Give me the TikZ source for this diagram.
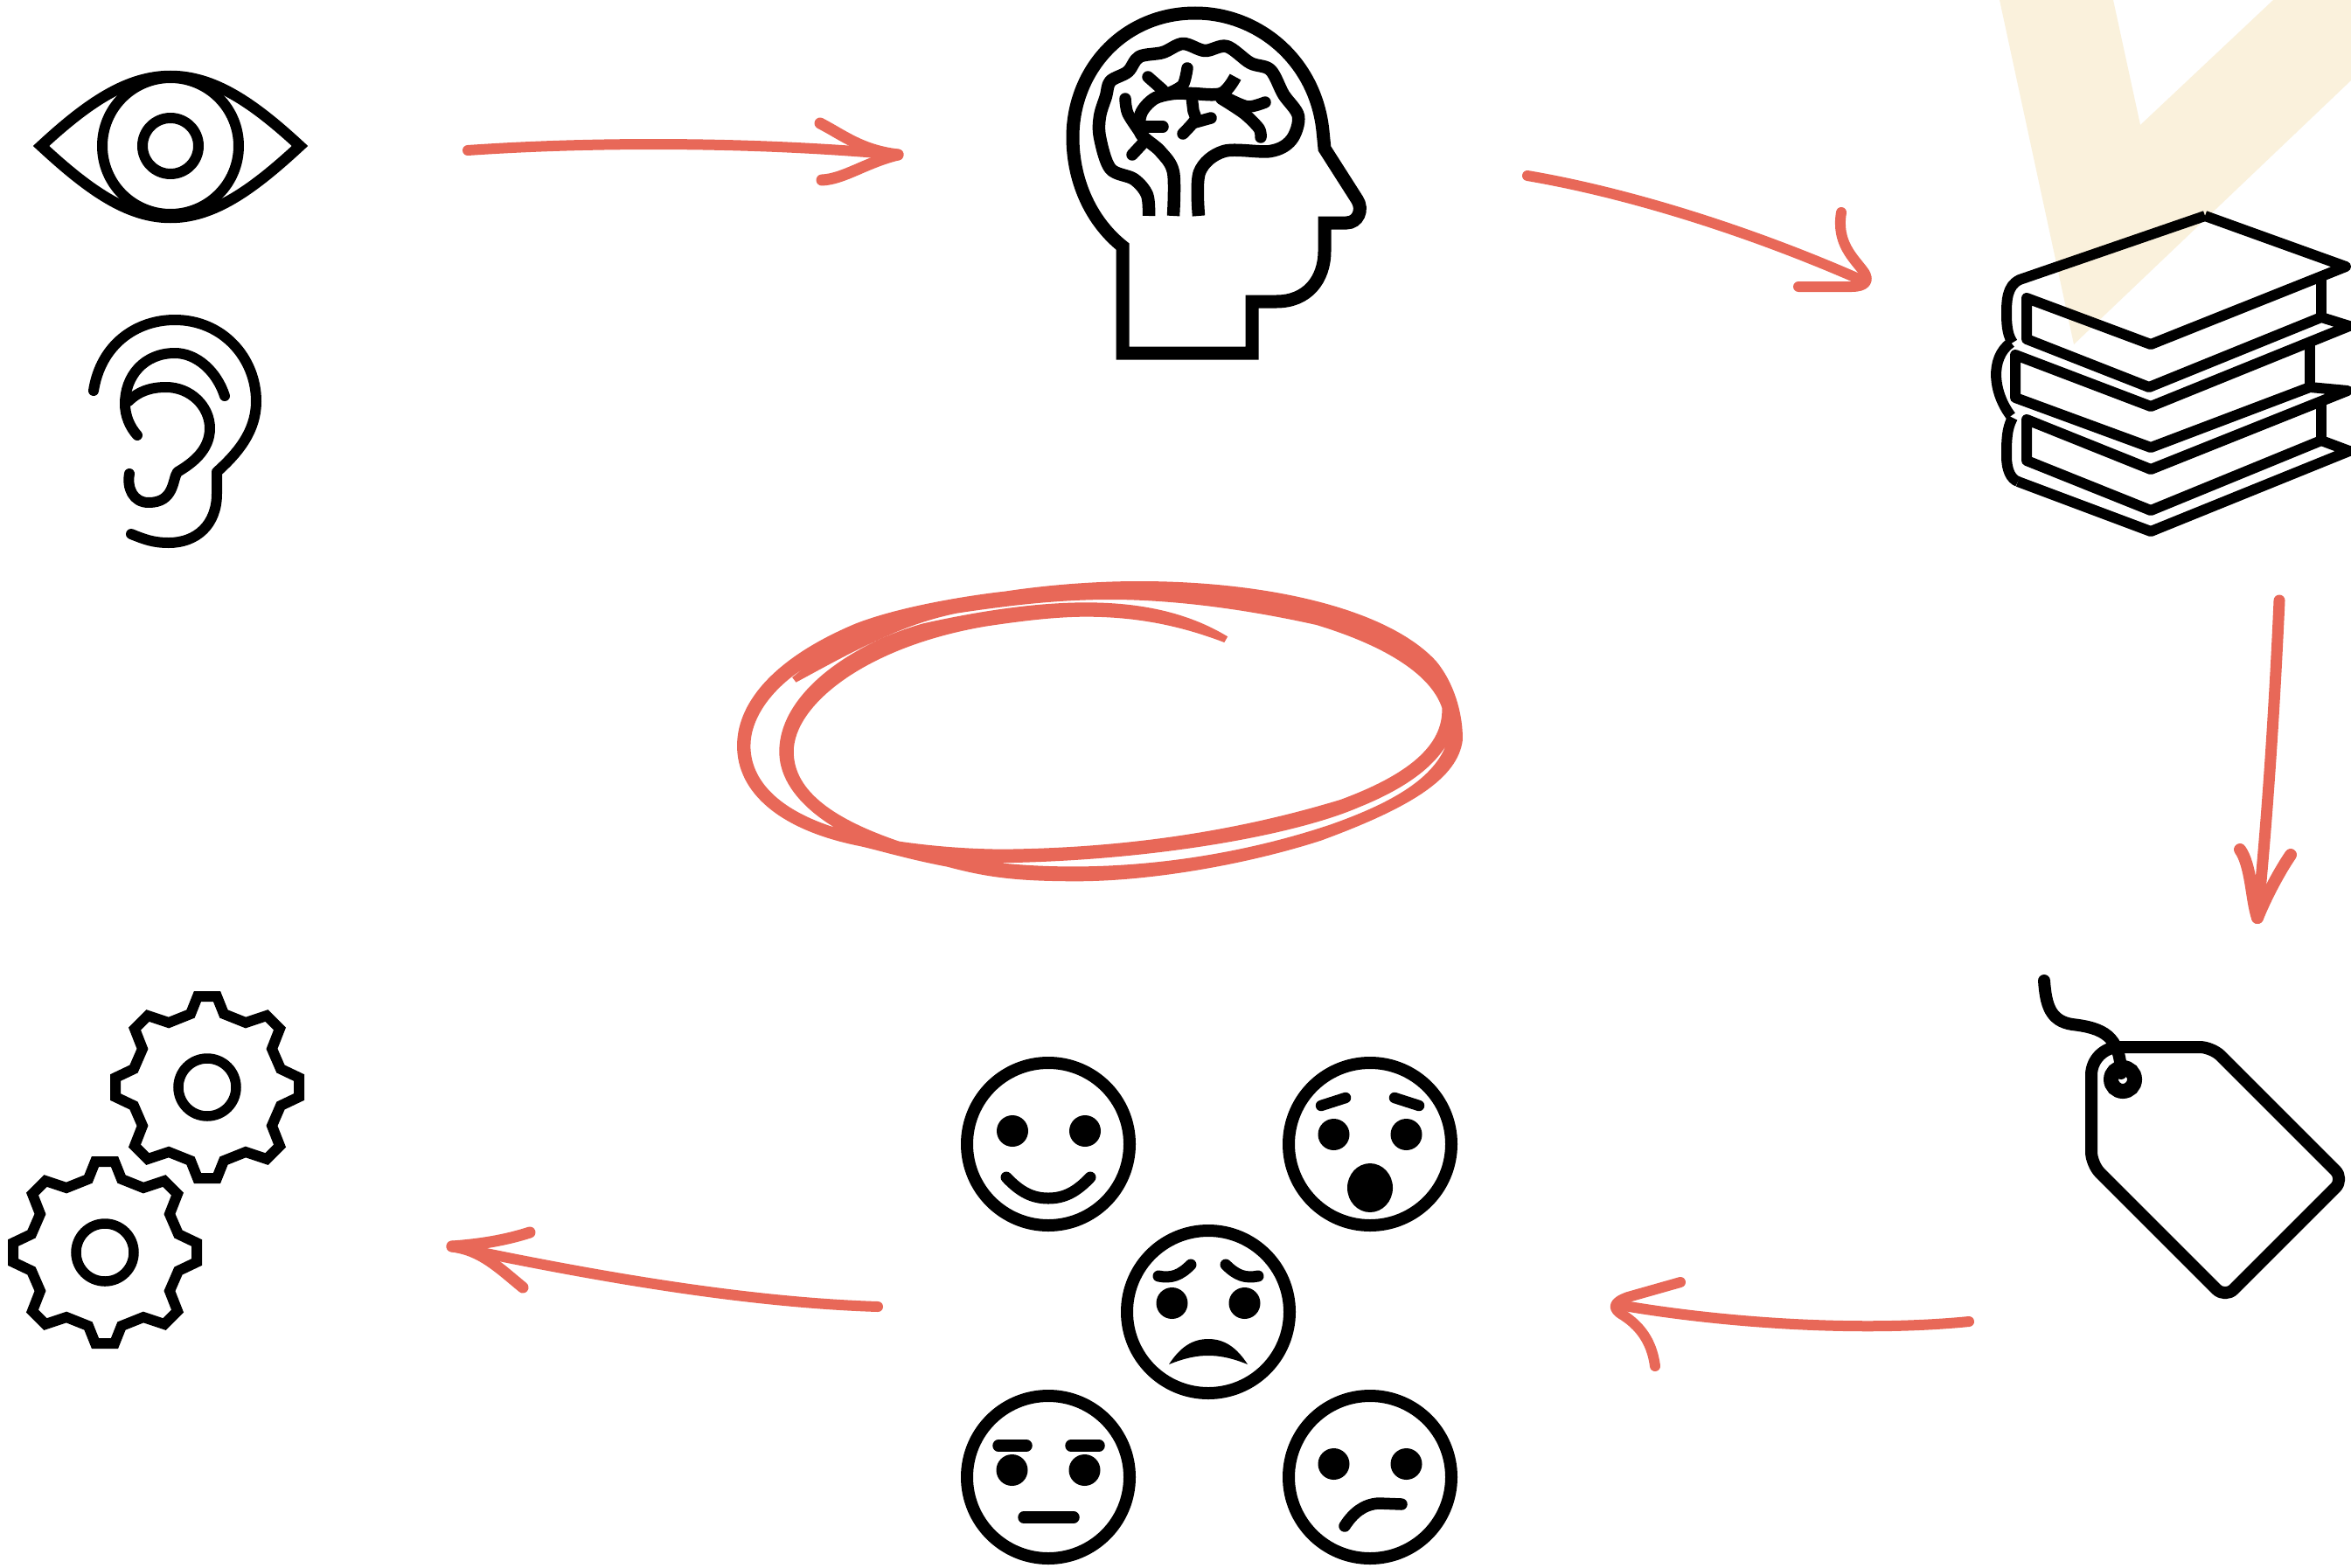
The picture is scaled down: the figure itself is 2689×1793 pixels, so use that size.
\documentclass[tikz,border=0pt]{standalone}
\definecolor{salmon}{HTML}{E86858}
\definecolor{beige}{HTML}{FAF1DC}
\tikzset{
  ico/.style={draw=black,line width=#1,line join=round,line cap=round},
  ico/.default=12pt,
  sharp/.style={draw=black,line width=#1,line join=miter,line cap=butt},
  sharp/.default=12pt,
  conn/.style={draw=salmon,line width=12pt,line cap=round,line join=round},
  eyedot/.style={fill=black},
  gearicon/.pic={
    \draw[sharp=12pt]
    (-11,-104)--(11,-104)--(19,-84)--(44,-74)--(68,-82)--(83,-67)--(74,-44)--(84,-21)--(105,-11)--(105,11)
    --(84,21)--(74,44)--(83,67)--(68,82)--(44,74)--(19,84)--(11,104)--(-11,104)--(-19,84)--(-44,74)
    --(-68,82)--(-83,67)--(-74,44)--(-84,21)--(-105,11)--(-105,-11)--(-84,-21)--(-74,-44)--(-83,-67)
    --(-68,-82)--(-44,-74)--(-19,-84)--cycle;
    \draw[sharp=11.5pt] (0,0) circle[radius=33];
  },
  faceicon/.pic={
    \draw[sharp=14pt] (0,0) circle[radius=93];
  }
}
\begin{document}
\begin{tikzpicture}[x=1pt,y=-1pt]
\useasboundingbox (0,0) rectangle (2689,1793);
\fill[white] (0,0) rectangle (2689,1793);
% check mark behind the books
\fill[beige] (2287,0)--(2372,394)--(2689,92)--(2689,0)--(2600,0)--(2448,143)--(2417,0)--cycle;

% eye
\draw[sharp=12.5pt,miter limit=10] (47,167) .. controls (100,118) and (145,87) .. (195,87) .. controls (245,87) and (290,118) .. (343,167)
  .. controls (290,216) and (245,249) .. (195,249) .. controls (145,249) and (100,216) .. (47,167) -- cycle;
\draw[sharp=12pt] (195,167) circle[radius=78];
\draw[sharp=12pt] (195,167) circle[radius=32];

% ear
\draw[ico=12pt] (107,447) .. controls (115,395) and (155,366) .. (200,366) .. controls (255,366) and (293,410) .. (293,459) .. controls (293,495) and (270,520) .. (248,540) -- (248,565) .. controls (248,600) and (225,621) .. (193,621) .. controls (175,621) and (165,617) .. (150,611);
\draw[ico=12pt] (257,453) .. controls (248,425) and (225,404) .. (200,404) .. controls (165,404) and (143,430) .. (143,462) .. controls (143,475) and (148,488) .. (157,498);
\draw[ico=12pt] (147,459) .. controls (158,448) and (172,443) .. (190,443) .. controls (218,443) and (240,465) .. (240,490) .. controls (240,515) and (220,530) .. (203,540) .. controls (197,548) and (200,575) .. (170,575) .. controls (152,575) and (145,558) .. (148,542);

% head
\draw[sharp=15pt] (1284,404) -- (1432,404) -- (1432,345) -- (1460,345) .. controls (1495,345) and (1515,320) .. (1515,287)
  -- (1515,255) -- (1540,255) .. controls (1553,255) and (1560,240) .. (1552,228) -- (1515,170) -- (1513,150)
  .. controls (1505,70) and (1440,15) .. (1367,15) .. controls (1285,15) and (1227,80) .. (1227,157)
  .. controls (1227,210) and (1250,255) .. (1284,282) -- cycle;
% brain
\draw[sharp=14.5pt,line join=round] plot[smooth,tension=.55] coordinates {(1314,247)(1312,223)(1297,205)(1270,193)(1258,157)(1258,133)(1265,110)(1270,93)(1290,82)(1303,65)(1330,60)(1353,50)(1378,58)(1403,53)(1430,72)(1453,80)(1468,108)(1485,133)(1477,160)(1453,173)(1400,173)(1372,197)(1371,247)};
\draw[sharp=14.5pt,line join=round] plot[smooth,tension=.55] coordinates {(1342,247)(1342,197)(1327,173)(1305,153)(1305,130)(1320,113)(1342,107)(1363,107)(1397,107)(1413,88)};
\draw[ico=13.5pt] plot[smooth] coordinates {(1287,113)(1290,130)(1305,153)};
\draw[ico=13.5pt] (1295,177) -- (1308,163);
\draw[ico=13.5pt] (1305,145) -- (1330,145);
\draw[ico=13.5pt] (1313,88) -- (1330,103);
\draw[ico=13.5pt] plot[smooth] coordinates {(1358,78)(1353,97)(1338,106)};
\draw[ico=13.5pt] plot[smooth] coordinates {(1363,110)(1365,127)(1367,137)(1353,153)};
\draw[ico=13.5pt] (1367,140) -- (1385,135);
\draw[ico=13.5pt] plot[smooth] coordinates {(1397,113)(1423,130)(1440,147)(1442,157)};
\draw[ico=13.5pt] plot[smooth] coordinates {(1403,112)(1427,122)(1447,117)};

% books
\begin{scope}[line width=12pt,line join=miter,line cap=butt]
\draw (2655,320) -- (2655,363);
\draw (2642,394) -- (2642,443);
\draw (2655,461) -- (2655,504);
\draw[line join=round] (2522,247) -- (2683,305) -- (2460,394) -- (2318,341) -- (2318,388) -- (2458,443) -- (2655,363) -- (2687,373) -- (2460,465) -- (2305,406) -- (2305,455) -- (2460,512) -- (2642,443) -- (2685,447) -- (2460,537) -- (2318,480) -- (2318,527) -- (2460,584) -- (2655,504) -- (2687,516) -- (2460,608) -- (2308,551);
\draw[line join=round] (2522,247) -- (2310,320) .. controls (2295,327) and (2295,345) .. (2295,360) .. controls (2295,375) and (2297,385) .. (2302,392);
\draw (2300,392) .. controls (2275,410) and (2280,450) .. (2300,476);
\draw[line join=round] (2302,478) .. controls (2295,490) and (2295,505) .. (2295,522) .. controls (2295,538) and (2300,548) .. (2308,551);
\end{scope}

% tag
\draw[sharp=14pt,line join=round,rounded corners=14pt] (2470,1198) -- (2530,1198) -- (2681,1349) -- (2545,1485) -- (2392,1332)
  [rounded corners=32pt] -- (2392,1198) -- (2470,1198);
\draw[black,line width=17pt] (2428,1235) circle[radius=13.5];
\draw[ico=14pt] (2338,1122) .. controls (2340,1150) and (2345,1168) .. (2370,1172) .. controls (2405,1176) and (2425,1185) .. (2426,1228);

% gears
\pic at (237,1244) {gearicon};
\pic at (120,1433) {gearicon};

% faces
\begin{scope}[shift={(1199,1309)}]
  \pic {faceicon};
  \fill[eyedot] (-41,-15) circle[radius=18] (42,-15) circle[radius=18];
  \draw[ico=13pt] (-48,38) .. controls (-32,55) and (-18,62) .. (0,62) .. controls (18,62) and (32,55) .. (48,38);
\end{scope}
\begin{scope}[shift={(1567,1309)}]
  \pic {faceicon};
  \fill[eyedot] (-41.5,-11) circle[radius=18] (41.5,-11) circle[radius=18];
  \draw[ico=12.5pt] (-56,-44) -- (-28,-53) (28,-53) -- (56,-44);
  \fill[eyedot] (0,50) ellipse[x radius=26,y radius=28];
\end{scope}
\begin{scope}[shift={(1382,1501)}]
  \pic {faceicon};
  \fill[eyedot] (-41.5,-10) circle[radius=18] (41.5,-10) circle[radius=18];
  \draw[ico=13pt] (-57,-41) .. controls (-42,-38) and (-32,-42) .. (-20,-54);
  \draw[ico=13pt] (57,-41) .. controls (42,-38) and (32,-42) .. (20,-54);
  \fill[eyedot] (-45,60) .. controls (-32,40) and (-18,31) .. (0,31) .. controls (18,31) and (32,40) .. (45,60)
     .. controls (25,52) and (12,50) .. (0,50) .. controls (-12,50) and (-25,52) .. (-45,60) -- cycle;
\end{scope}
\begin{scope}[shift={(1199,1690)}]
  \pic {faceicon};
  \fill[eyedot] (-41.5,-8) circle[radius=18] (41.5,-8) circle[radius=18];
  \draw[ico=13.5pt] (-57,-36) -- (-25,-36) (26,-36) -- (58,-36) (-28,46) -- (29,46);
\end{scope}
\begin{scope}[shift={(1567,1690)}]
  \pic {faceicon};
  \fill[eyedot] (-41.5,-15) circle[radius=18] (41.5,-15) circle[radius=18];
  \draw[ico=13.5pt] (-29,56) .. controls (-20,42) and (-8,31) .. (10,30) -- (36,31);
\end{scope}

% scribbled ellipse
\begin{scope}[xshift=820pt,yshift=-640pt,x=0.5485pt,y=-0.3333pt]
\fill[salmon,even odd rule]
  (880,75) .. controls (1150,75) and (1400,170) .. (1500,350) .. controls (1540,430) and (1556,540) .. (1555,620)
  .. controls (1545,750) and (1450,850) .. (1260,965) .. controls (1100,1050) and (900,1105) .. (750,1105)
  .. controls (620,1105) and (560,1090) .. (480,1055) .. controls (400,1030) and (340,1000) .. (300,985)
  .. controls (130,930) and (42,800) .. (42,640) .. controls (42,480) and (130,330) .. (290,220)
  .. controls (400,150) and (570,115) .. (600,110) .. controls (700,85) and (800,75) .. (880,75) -- cycle
  (165,422) .. controls (280,320) and (380,225) .. (500,185) .. controls (620,155) and (720,138) .. (820,138)
  .. controls (950,138) and (1100,170) .. (1250,225) .. controls (1400,300) and (1490,400) .. (1512,510)
  .. controls (1515,640) and (1440,740) .. (1300,825) .. controls (1100,925) and (870,990) .. (600,995)
  .. controls (530,995) and (450,985) .. (380,968) .. controls (250,895) and (160,800) .. (160,660)
  .. controls (160,500) and (310,300) .. (560,230) .. controls (640,210) and (710,197) .. (770,197)
  .. controls (880,197) and (970,230) .. (1058,285) -- (1065,265)
  .. controls (980,180) and (880,148) .. (770,148) .. controls (660,148) and (540,180) .. (430,220)
  .. controls (280,290) and (130,460) .. (130,660) .. controls (130,760) and (175,850) .. (245,920)
  .. controls (130,860) and (70,760) .. (70,640) .. controls (70,550) and (110,450) .. (180,375)
  -- (157,405) -- cycle
  (590,1042) .. controls (900,1035) and (1200,950) .. (1340,850) .. controls (1430,790) and (1490,720) .. (1520,640)
  .. controls (1490,760) and (1400,840) .. (1280,910) .. controls (1100,1010) and (850,1085) .. (590,1042) -- cycle;
\end{scope}

% connectors
\coordinate (a1s) at (535,172); \coordinate (a1e) at (1027,177);
\coordinate (a1t) at (938,141); \coordinate (a1b) at (940,206);
\draw[conn] (a1s) .. controls (680,162) and (860,162) .. (a1e);
\draw[conn,line width=13pt] (a1e) .. controls (985,172) and (965,155) .. (a1t);
\draw[conn,line width=13pt] (a1e) .. controls (990,186) and (965,205) .. (a1b);

\coordinate (a2s) at (1747,201); \coordinate (a2e) at (2128,320);
\coordinate (a2t) at (2106,243); \coordinate (a2b) at (2057,328);
\draw[conn] (a2s) .. controls (1870,222) and (2010,268) .. (a2e);
\draw[conn] (a2t) .. controls (2100,278) and (2120,295) .. (2131,310) .. controls (2140,322) and (2132,328) .. (2118,328) -- (a2b);

\coordinate (a3s) at (2607,687); \coordinate (a3e) at (2582,1050);
\coordinate (a3l) at (2562,972); \coordinate (a3r) at (2620,978);
\draw[conn,line width=13pt] (a3s) .. controls (2602,800) and (2594,930) .. (a3e);
\draw[conn,line width=14pt] (a3e) .. controls (2575,1030) and (2575,990) .. (a3l);
\draw[conn,line width=14pt] (a3e) .. controls (2590,1030) and (2605,1000) .. (a3r);

\coordinate (a4s) at (2252,1512); \coordinate (a4e) at (1852,1493);
\coordinate (a4t) at (1922,1467); \coordinate (a4b) at (1893,1563);
\draw[conn] (a4s) .. controls (2120,1525) and (1960,1512) .. (a4e);
\draw[conn] (a4t) -- (1862,1484) .. controls (1845,1490) and (1843,1497) .. (1857,1505) .. controls (1880,1520) and (1890,1540) .. (a4b);

\coordinate (a5s) at (1004,1495); \coordinate (a5e) at (517,1426);
\coordinate (a5t) at (606,1410); \coordinate (a5b) at (598,1473);
\draw[conn] (a5s) .. controls (850,1490) and (680,1460) .. (a5e);
\draw[conn,line width=13pt] (a5e) .. controls (545,1424) and (575,1420) .. (a5t);
\draw[conn,line width=13pt] (a5e) .. controls (550,1430) and (570,1450) .. (a5b);
\end{tikzpicture}
\end{document}
